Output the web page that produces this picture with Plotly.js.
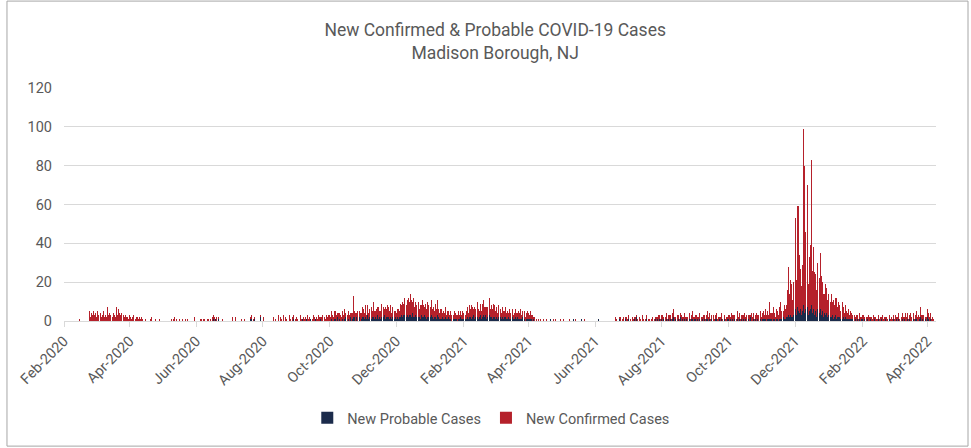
<!DOCTYPE html>
<html>
<head>
<meta charset="utf-8">
<script src="https://cdn.plot.ly/plotly-3.0.1.min.js"></script>
<style>html,body{margin:0;padding:0;background:#fff;}#chart{width:971px;height:448px;}</style>
</head>
<body>
<div id="chart"></div>
<script>
// Daily new confirmed cases, starting 2020-02-01
const confirmedStart = '2020-02-01';
const confirmed2020 = [
  0,0,0,0,0,0,0,0,0,0, 0,0,0,0,1,0,0,0,0,0, 0,0,0,5,2,4,3,5,3,
  4,2,5,3,4,2,3,5,2,3, 2,7,3,4,3,2,4,3,2,7, 3,6,4,3,4,3,2,3,2,2, 1,
  3,2,1,2,3,1,2,2,1,2, 1,2,1,0,0,1,0,0,0,1, 2,0,0,0,1,0,0,1,0,0,
  0,0,0,0,0,0,0,0,1,0, 1,2,0,1,0,0,1,0,1,0, 0,1,0,1,0,0,0,0,0,2, 0,
  0,0,0,0,1,1,0,1,1,0, 1,1,0,1,0,2,2,2,0,2, 1,0,0,0,1,0,0,0,0,0,
  0,0,0,2,0,0,2,0,0,0, 0,1,0,0,1,0,0,0,0,0, 1,2,1,1,0,0,0,0,0,1, 0,
  0,2,0,0,0,0,0,0,0,0, 2,0,1,0,3,0,2,1,0,3, 0,2,1,0,3,1,0,2,2,0, 1,
  2,1,0,3,1,0,2,1,2,0, 3,1,2,0,1,3,2,0,2,1, 3,2,1,2,3,2,1,3,2,3,
  3,2,4,3,2,4,3,2,4,3, 3,2,4,3,5,2,3,4,3,2, 4,3,11,3,4,2,5,3,4,3, 5,
  4,3,6,2,5,3,4,6,3,8, 4,3,5,4,6,3,4,7,5,3, 6,4,6,5,4,6,3,5,4,3,
  3,4,5,3,7,5,8,6,9,6, 8,10,7,11,9,6,10,5,7,6, 8,4,7,5,9,6,4,7,5,8, 6
];
const confirmed2021 = [
  5,8,4,6,3,7,5,8,4,3, 5,2,4,3,5,2,4,3,2,4, 3,2,4,3,2,3,4,2,3,2, 4,
  3,2,4,5,3,6,4,7,5,3, 6,4,8,5,3,6,4,7,8,5, 4,6,5,9,4,6,5,7,
  6,4,5,3,6,4,3,5,4,3, 5,3,4,2,5,3,4,2,3,4, 3,2,4,3,5,2,3,4,2,3, 4,
  3,2,4,2,3,1,2,1,0,1, 0,1,0,0,1,0,0,1,0,0, 0,0,0,1,0,1,0,0,0,1,
  0,0,1,0,0,0,0,0,1,0, 0,0,0,1,0,0,0,0,0,0, 0,1,0,0,0,0,0,0,0,0, 0,
  0,0,0,0,0,0,0,0,0,0, 0,0,0,0,0,0,0,0,0,2, 1,0,1,2,0,1,2,0,1,2,
  1,2,1,0,2,1,1,2,1,1, 0,2,1,3,1,0,1,2,0,1, 1,0,1,2,1,1,2,1,3,2, 1,
  2,3,1,2,3,1,2,3,2,1, 3,4,2,1,3,2,1,2,3,1, 2,3,2,1,2,3,1,2,4,2, 1,
  2,3,1,2,3,2,1,3,2,1, 2,4,2,3,1,2,3,1,2,3, 1,2,1,2,3,1,2,1,2,1,
  2,3,1,4,2,3,2,1,4,2, 3,1,2,3,2,4,1,3,2,3, 1,4,2,3,1,2,4,2,3,4, 2,
  3,4,2,5,3,4,2,9,3,4, 6,3,2,5,4,3,6,9,4,3, 7,5,6,14,25,12,18,17,9,17,
  47,18,52,54,30,21,15,24,91,76, 40,63,16,28,33,75,22,32,22,19, 14,24,18,29,20,15,12,10,16,13, 9
];
const confirmed2022 = [
  11,8,12,7,10,6,9,11,5,8, 6,4,9,5,3,6,4,3,5,2, 4,3,2,3,1,3,2,1,3,2, 1,
  2,3,1,2,1,3,2,1,2,1, 3,1,2,1,2,1,2,1,3,1, 2,1,2,1,2,1,2,1,
  2,1,3,1,2,3,1,2,3,2, 1,4,2,3,1,2,4,2,3,1, 2,4,2,3,1,5,3,2,3,1, 2,
  4,3,2,3,1,2,1
];

// Daily new probable cases, starting 2020-06-01
const probableStart = '2020-06-01';
const probable2020 = [
  0,0,0,0,0,0,0,0,0,0, 0,0,0,0,0,0,1,0,1,0, 1,0,0,0,0,0,0,0,0,0,
  0,0,0,0,0,0,0,0,0,0, 0,0,0,0,0,0,0,0,0,0, 1,1,0,1,0,0,0,0,0,2, 0,
  0,0,0,0,0,0,0,0,0,0, 0,0,0,0,0,0,0,0,0,0, 0,0,0,0,0,0,0,0,1,0, 0,
  0,0,0,0,0,1,0,0,0,1, 0,0,0,1,0,0,0,1,0,0, 0,0,1,0,0,0,0,0,0,0,
  0,0,1,0,0,1,0,2,0,1, 0,0,1,0,1,2,0,1,0,2, 0,1,2,2,0,2,0,2,0,1, 2,
  2,1,2,1,3,1,2,1,2,2, 1,2,1,3,1,2,1,2,2,3, 1,2,2,2,1,2,1,2,1,2,
  1,2,1,2,2,3,2,3,3,2, 3,2,3,3,2,4,2,2,3,2, 2,2,1,3,2,2,3,2,1,2, 2
];
const probable2021 = [
  2,3,2,1,2,2,1,3,2,1, 1,2,1,1,2,1,1,2,1,1, 0,1,1,1,1,0,1,1,2,1, 1,
  1,1,1,2,1,2,2,1,2,3, 1,2,2,1,2,3,1,2,3,2, 3,1,2,3,2,2,1,2,
  2,1,2,1,2,2,1,2,1,2, 2,1,1,2,1,1,2,1,1,2, 1,2,1,1,1,1,2,1,0,1, 1,
  1,1,1,1,0,1,0,0,0,0, 0,0,0,0,0,0,0,0,0,0, 1,0,0,0,0,0,0,0,0,0,
  0,0,0,0,0,0,0,0,0,0, 0,1,0,0,0,0,0,0,0,1, 0,0,0,0,0,0,0,0,0,0, 0,
  0,0,0,1,0,0,0,0,0,0, 0,0,0,0,0,0,0,0,0,0, 0,0,1,0,0,0,0,0,1,0,
  0,1,0,0,0,0,1,0,2,0, 0,0,0,0,0,0,0,1,0,0, 0,0,0,0,0,1,0,1,0,1, 0,
  1,0,1,0,1,0,1,0,1,0, 1,2,0,1,0,1,0,2,0,1, 0,1,0,1,0,1,0,1,1,0, 1,
  1,0,1,0,1,0,1,0,1,0, 1,1,0,1,0,1,0,0,1,1, 0,0,1,0,1,0,1,0,0,1,
  1,0,1,0,1,0,1,0,1,0, 1,0,1,0,1,0,1,0,1,0, 2,0,0,1,0,1,0,1,0,1, 0,
  1,1,1,1,0,1,1,1,1,0, 1,1,0,1,1,0,1,1,1,2, 1,1,2,2,3,2,3,2,2,3,
  6,3,7,5,4,6,3,5,8,4, 6,7,3,5,6,8,4,6,3,5, 2,6,4,6,3,5,2,4,3,4, 2
];
const probable2022 = [
  3,2,2,3,1,2,3,1,2,2, 2,1,1,2,1,2,1,1,1,1, 1,1,1,0,1,0,1,0,1,0, 1,
  1,0,1,0,1,0,0,1,0,0, 0,1,0,0,1,0,0,1,0,0, 0,1,0,0,1,0,0,0,
  1,0,0,1,0,1,0,0,1,0, 1,0,0,1,0,1,0,0,1,0, 1,1,0,0,1,2,0,1,0,1, 0,
  2,1,0,1,0,0,0
];

const seriesNames = ['New Probable Cases', 'New Confirmed Cases'];
const chartTitle = 'New Confirmed & Probable COVID-19 Cases<br>Madison Borough, NJ';

function dailyDates(start, n) {
  const t0 = Date.parse(start + 'T00:00:00Z');
  const out = [];
  for (let i = 0; i < n; i++) {
    out.push(new Date(t0 + i * 86400000).toISOString().slice(0, 10));
  }
  return out;
}

const confirmed = confirmed2020.concat(confirmed2021, confirmed2022);
const probable = probable2020.concat(probable2021, probable2022);

const FONT = 'Roboto, "Liberation Sans", sans-serif';
const TXT = '#595959';

const traces = [
  {
    type: 'bar', name: seriesNames[0],
    x: dailyDates(probableStart, probable.length), y: probable,
    marker: {color: '#1b2b4b', line: {width: 0}},
    hoverinfo: 'x+y'
  },
  {
    type: 'bar', name: seriesNames[1],
    x: dailyDates(confirmedStart, confirmed.length), y: confirmed,
    marker: {color: '#b5212b', line: {width: 0}},
    hoverinfo: 'x+y'
  }
];

const layout = {
  width: 971, height: 448,
  margin: {l: 64, r: 35, t: 88, b: 127},
  paper_bgcolor: '#ffffff', plot_bgcolor: '#ffffff',
  font: {family: FONT, color: TXT, size: 14.5},
  barmode: 'stack', bargap: 0.08,
  title: {
    text: chartTitle,
    font: {family: FONT, size: 17.5, color: TXT},
    x: 0.51, xref: 'container', xanchor: 'center',
    y: 0.92, yref: 'container', yanchor: 'top'
  },
  xaxis: {
    type: 'date',
    range: ['2020-02-01', '2022-04-09'],
    tick0: '2020-02-01', dtick: 'M2', tickformat: '%b-%Y',
    tickangle: -45,
    ticks: 'outside', ticklen: 5, tickcolor: '#d9d9d9', tickwidth: 1,
    showline: true, linecolor: '#d9d9d9', linewidth: 1,
    showgrid: false, zeroline: false,
    tickfont: {family: FONT, size: 14.5, color: TXT}
  },
  yaxis: {
    range: [0, 120], dtick: 20,
    showgrid: true, gridcolor: '#d9d9d9', gridwidth: 1,
    zeroline: false, showline: false, ticks: '',
    ticklabelstandoff: 11,
    tickfont: {family: FONT, size: 14.5, color: TXT}
  },
  legend: {
    orientation: 'h', x: 0.49, xanchor: 'center',
    y: -0.416, yanchor: 'middle',
    font: {family: FONT, size: 14.5, color: TXT},
    traceorder: 'normal', itemclick: false, itemwidth: 30
  },
  shapes: [{
    type: 'rect', xref: 'paper', yref: 'paper',
    x0: -0.0654, x1: 1.0367, y0: -0.537, y1: 1.373,
    line: {color: '#a6a6a6', width: 1}, fillcolor: 'rgba(0,0,0,0)', layer: 'below'
  }],
  showlegend: true
};

Plotly.newPlot('chart', traces, layout, {displayModeBar: false, staticPlot: true});
</script>
</body>
</html>
